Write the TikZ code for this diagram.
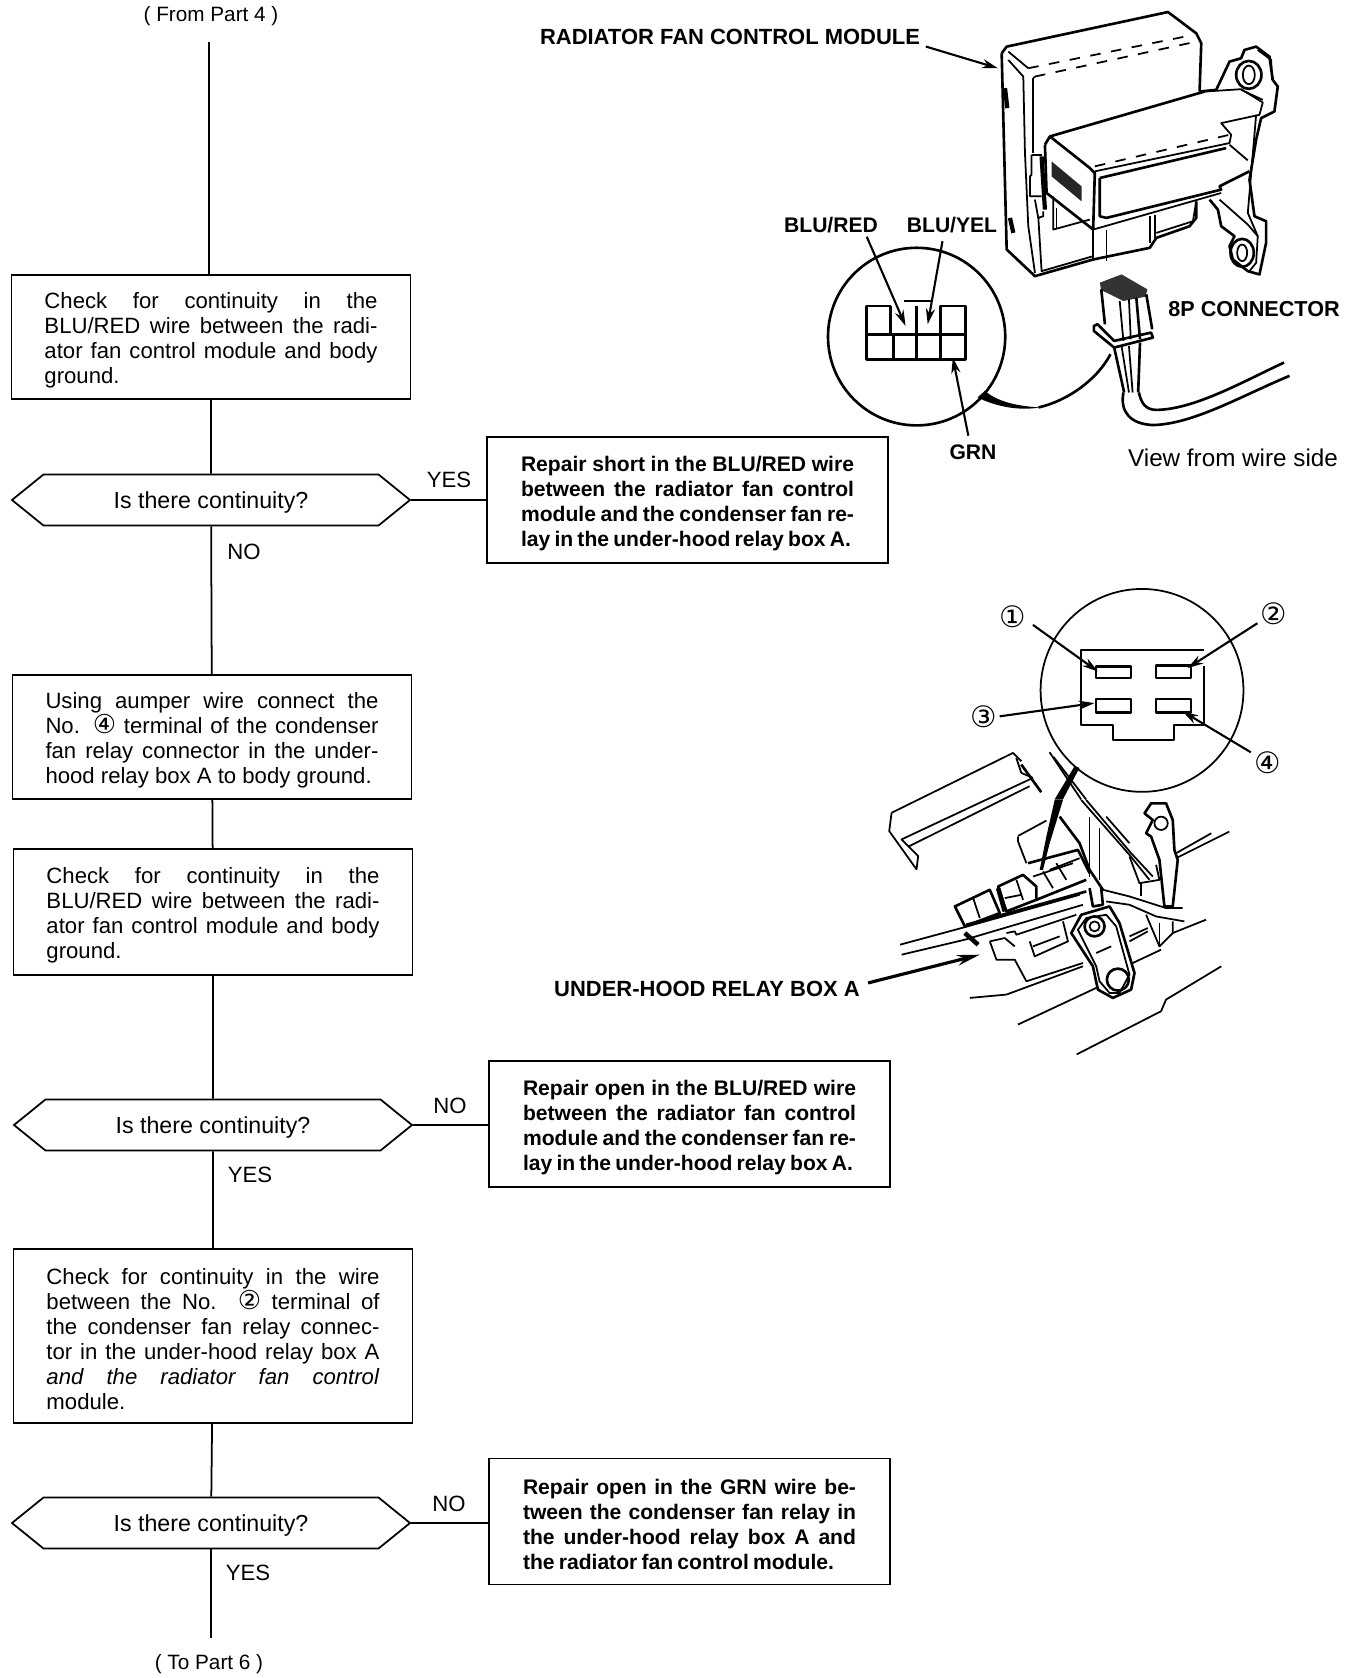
\documentclass[tikz,border=0pt]{standalone}
\usepackage{fontspec}
\setmainfont{Liberation Sans}
\newfontfamily\circfont{DejaVu Sans}
\usetikzlibrary{arrows.meta,shapes.symbols}
\tikzset{
    flowline/.style={line width=0.5pt},
    flowbox/.style={draw, line width=0.55pt, inner sep=0pt, minimum width=3.99cm, align=center},
    repairbox/.style={draw, line width=0.55pt, inner sep=0pt, minimum width=4.01cm, minimum height=1.26cm, align=center},
    decision/.style={draw, line width=0.5pt, shape=signal, signal to=east and west, signal pointer angle=78,
        inner sep=0pt, minimum width=3.98cm, minimum height=0.51cm, font=\fontsize{6.6}{7.1}\selectfont, text height=5.7pt, text depth=1pt},
    answer/.style={font=\fontsize{6.3}{7.1}\selectfont},
    passlabel/.style={font=\fontsize{5.9}{7.1}\selectfont, text height=5.5pt, text depth=1pt},
    leader/.style={line width=0.6pt, -{Stealth[length=4.5pt,width=2.6pt]}},
    part/.style={line width=0.5pt, line join=round},
    heavy/.style={line width=0.75pt, line join=round},
    partlabel/.style={font=\fontsize{6}{7}\selectfont\bfseries},
    longlabel/.style={font=\fontsize{6.25}{7}\selectfont\bfseries},
    termlabel/.style={font=\fontsize{8.4}{9}\selectfont\circfont}
}
\newcommand{\bodytext}[1]{\parbox{3.33cm}{\fontsize{6.3}{7.1}\selectfont\rule{0pt}{6.2pt}#1}}
\newcommand{\boldtext}[1]{\parbox{3.33cm}{\fontsize{6}{7.1}\selectfont\bfseries\spaceskip=0.2em plus 1em\rule{0pt}{6.2pt}#1}}
\newcommand{\termno}[1]{{\circfont\fontsize{7.4}{7.1}\selectfont #1}}
\begin{document}
\begin{tikzpicture}[x=1cm,y=-1cm,font=\fontsize{6.3}{7.1}\selectfont]
    \useasboundingbox (0,0) rectangle (13.6,16.78);
    % Flow chart, left column
    \node[passlabel] (frompart) at (2.11,0.14) {( From Part 4 )};
    \node[flowbox, minimum height=1.24cm] (checkone) at (2.11,3.37) {\bodytext{Check for continuity in the\linebreak BLU/RED wire between the radi-\linebreak ator fan control module and body\linebreak ground.}};
    \node[decision] (askone) at (2.11,5.00) {Is there continuity?};
    \node[flowbox, minimum height=1.24cm] (jumper) at (2.12,7.37) {\bodytext{Using aumper wire connect the\linebreak No. \termno{④} terminal of the condenser\linebreak fan relay connector in the under-\linebreak hood relay box A to body ground.}};
    \node[flowbox, minimum height=1.26cm] (checktwo) at (2.13,9.12) {\bodytext{Check for continuity in the\linebreak BLU/RED wire between the radi-\linebreak ator fan control module and body\linebreak ground.}};
    \node[decision] (asktwo) at (2.13,11.25) {Is there continuity?};
    \node[flowbox, minimum height=1.74cm] (checkthree) at (2.13,13.36) {\bodytext{Check for continuity in the wire\linebreak between the No. \termno{②} terminal of\linebreak the condenser fan relay connec-\linebreak tor in the under-hood relay box A\linebreak \textit{and the radiator fan control}\linebreak module.}};
    \node[decision] (askthree) at (2.11,15.23) {Is there continuity?};
    \node[passlabel] (topart) at (2.09,16.62) {( To Part 6 )};
    % Repair boxes
    \node[repairbox] (repairone) at (6.875,5.00) {\boldtext{Repair short in the BLU/RED wire\linebreak between the radiator fan control\linebreak module and the condenser fan re-\linebreak lay in the under-hood relay box A.}};
    \node[repairbox] (repairtwo) at (6.895,11.24) {\boldtext{Repair open in the BLU/RED wire\linebreak between the radiator fan control\linebreak module and the condenser fan re-\linebreak lay in the under-hood relay box A.}};
    \node[repairbox] (repairthree) at (6.895,15.215) {\boldtext{Repair open in the GRN wire be-\linebreak tween the condenser fan relay in\linebreak the under-hood relay box A and\linebreak the radiator fan control module.}};
    % Answers
    \node[answer] (yesone) at (4.49,4.80) {YES};
    \node[answer] (noone) at (2.44,5.52) {NO};
    \node[answer] (notwo) at (4.50,11.06) {NO};
    \node[answer] (yestwo) at (2.50,11.75) {YES};
    \node[answer] (nothree) at (4.49,15.04) {NO};
    \node[answer] (yesthree) at (2.48,15.73) {YES};
    % Connectors
    \draw[flowline] (frompart.south) ++(-0.02,0.04) coordinate (fromend) -- (fromend |- checkone.north);
    \draw[flowline] (checkone) -- (askone);
    \draw[flowline] (askone) -- (jumper);
    \draw[flowline] (jumper) -- (checktwo);
    \draw[flowline] (checktwo) -- (asktwo);
    \draw[flowline] (asktwo) -- (checkthree);
    \draw[flowline] (checkthree) -- (askthree);
    \draw[flowline] (askthree.south) -- (askthree.south |- topart.north);
    \draw[flowline] (askone.east) -- (repairone.west |- askone.east);
    \draw[flowline] (asktwo.east) -- (repairtwo.west |- asktwo.east);
    \draw[flowline] (askthree.east) -- (repairthree.west |- askthree.east);
    % Part labels
    \node[longlabel] (modulelabel) at (7.30,0.37) {RADIATOR FAN CONTROL MODULE};
    \node[partlabel] (blured) at (8.31,2.25) {BLU/RED};
    \node[partlabel] (bluyel) at (9.52,2.25) {BLU/YEL};
    \node[partlabel] (grn) at (9.73,4.52) {GRN};
    \node[partlabel, font=\fontsize{6.15}{7}\selectfont\bfseries] (eightp) at (12.54,3.09) {8P CONNECTOR};
    \node[font=\fontsize{6.9}{7}\selectfont] (wireside) at (12.33,4.58) {View from wire side};
    \node[longlabel] (relaylabel) at (7.07,9.89) {UNDER-HOOD RELAY BOX A};
    % Radiator fan control module
    \begin{scope}[shift={(10,0.3)},x=0.00333cm,y=-0.00333cm]
        % housing
        \draw[heavy] (5,70) -- (20,50) -- (505,-54) -- (590,10) -- (605,40) -- (600,185);
        \draw[heavy] (5,70) -- (20,660) -- (105,740) -- (280,690) -- (450,655) -- (470,625) -- (570,590) -- (590,565) -- (590,515);
        \draw[part] (25,65) -- (85,115);
        \draw[part, dashed] (85,115) -- (580,15);
        \draw[part] (100,145) -- (105,140);
        \draw[part, dashed] (105,140) -- (590,35);
        \draw[part] (100,145) -- (100,370);
        \draw[part] (25,90) -- (70,140) -- (75,370);
        \draw[part] (115,560) -- (125,725) -- (280,680);
        \draw[part] (75,370) -- (85,590) -- (105,730);
        \draw[part] (95,375) -- (95,435) -- (90,440) -- (90,500) -- (125,500);
        \draw[part] (95,375) -- (125,375);
        \draw[line width=1.2pt] (125,380) -- (135,540);
        \draw[part] (105,510) -- (115,565) -- (130,560) -- (130,545);
        \draw[line width=1.2pt] (15,175) -- (22,235);
        \draw[line width=1.2pt] (30,565) -- (40,610);
        % connector block
        \draw[heavy] (135,345) -- (150,320) -- (615,185);
        \draw[heavy] (150,320) -- (270,415) -- (285,430) -- (280,600) -- (140,490) -- (135,345);
        \draw[part] (615,185) -- (725,178) -- (790,218) -- (780,255) -- (665,280) -- (695,315) -- (690,340) -- (285,425);
        \draw[part, dashed] (285,410) -- (690,315);
        \draw[heavy] (300,445) -- (300,560) -- (320,565) -- (665,480) -- (660,470) -- (750,425);
        \draw[heavy] (300,445) -- (680,355);
        \draw[part] (690,345) -- (745,392);
        \draw[part] (280,600) -- (665,490);
        \fill[black!85] (155,395) -- (245,470) -- (245,515) -- (155,440) -- cycle;
        \draw[part] (160,500) -- (160,600) -- (270,570);
        \draw[part] (170,535) -- (170,595);
        \draw[part] (280,600) -- (280,690);
        \draw[part] (320,600) -- (320,695);
        \draw[part] (450,560) -- (450,640);
        \draw[part] (465,555) -- (465,630);
        \draw[part] (470,610) -- (580,575) -- (590,515);
        % bracket
        \draw[heavy] (600,185) -- (650,180) -- (690,95) -- (725,85) -- (735,60) -- (770,50) -- (810,80) -- (820,150) -- (835,170) -- (825,245) -- (785,265) -- (770,330) -- (750,450) -- (765,560) -- (800,575) -- (800,640) -- (780,735) -- (745,725) -- (700,690) -- (690,650) -- (705,620) -- (665,590) -- (655,540) -- (630,510);
        \draw[part] (770,255) -- (745,550) -- (775,620) -- (770,700) -- (750,725);
        \draw[part] (660,510) -- (745,585) -- (775,620);
        \draw[part] (725,180) -- (790,210);
        \draw[part] (775,60) -- (815,90) -- (818,150);
        \draw[heavy] (748,135) ellipse [x radius=38, y radius=42];
        \draw[part] (748,135) ellipse [x radius=18, y radius=28];
        \draw[heavy] (728,670) ellipse [x radius=35, y radius=42];
        \draw[part] (728,670) ellipse [x radius=15, y radius=25];
    \end{scope}
    % 8P connector and round view
    \begin{scope}[shift={(7.8,0)},x=0.0037cm,y=-0.00333cm]
        \coordinate (moduletip) at (590,205);
        \coordinate (modulestart) at (395,140);
        \draw[leader] (modulestart) -- (moduletip);
        % 8P connector
        \fill[black!80] (866,850) -- (925,825) -- (995,870) -- (990,892) -- (930,905) -- (870,872) -- cycle;
        \draw[heavy] (870,870) -- (880,975);
        \draw[heavy] (992,885) -- (1008,990);
        \draw[part] (920,905) -- (930,1025);
        \draw[part] (945,900) -- (950,1020);
        \draw[heavy] (965,895) -- (975,1020);
        \draw[heavy] (850,980) -- (860,975) -- (905,1025) -- (1005,1000) -- (1010,1015) -- (905,1045) -- (850,995) -- cycle;
        \draw[heavy] (905,1045) -- (932,1180);
        \draw[part] (925,1040) -- (945,1180);
        \draw[part] (945,1040) -- (955,1180);
        \draw[heavy] (975,1030) -- (970,1180);
        % cable
        \draw[heavy] (930,1180) .. controls (920,1240) and (950,1275) .. (1010,1278) .. controls (1120,1275) and (1250,1190) .. (1380,1130);
        \draw[heavy] (972,1180) .. controls (980,1225) and (1000,1235) .. (1030,1232) .. controls (1130,1225) and (1250,1150) .. (1365,1090);
        % round view of the connector
        \coordinate (viewcentre) at (370,1012);
        \draw[heavy] (viewcentre) ellipse [x radius=240, y radius=267];
        \draw[heavy] (300,920) -- (235,920) -- (235,1080) -- (503,1080) -- (503,920) -- (435,920) -- (435,1080);
        \draw[heavy] (235,1005) -- (503,1005);
        \draw[heavy] (300,920) -- (300,1005);
        \draw[heavy] (370,920) -- (370,1080);
        \draw[heavy] (308,1005) -- (308,1080);
        \draw[heavy] (335,905) -- (415,905);
        \fill (535,1195) .. controls (590,1225) and (650,1235) .. (705,1225) .. controls (650,1222) and (590,1210) .. (555,1175) -- cycle;
        \draw[heavy] (700,1225) .. controls (780,1205) and (860,1140) .. (895,1065);
        \coordinate (bluredstart) at (235,712);
        \coordinate (bluredtip) at (340,980);
        \coordinate (bluyelstart) at (440,725);
        \coordinate (bluyeltip) at (400,975);
        \coordinate (grnstart) at (510,1310);
        \coordinate (grntip) at (468,1075);
        \draw[leader] (bluredstart) -- (bluredtip);
        \draw[leader] (bluyelstart) -- (bluyeltip);
        \draw[leader] (grnstart) -- (grntip);
    \end{scope}
    % Relay connector view and cover
    \begin{scope}[shift={(8.4,5.7)},x=0.00333cm,y=-0.00333cm]
        \draw[part] (908,362) circle [radius=305];
        \draw[part] (1095,290) -- (1095,465) -- (1005,465) -- (1005,510) -- (820,510) -- (820,465) -- (725,465) -- (725,240) -- (1095,240);
        \draw[heavy] (770,290) rectangle (875,325);
        \draw[heavy] (950,288) rectangle (1055,325);
        \draw[heavy] (770,388) rectangle (875,428);
        \draw[heavy] (950,388) rectangle (1055,428);
        \node[termlabel] (termone) at (518,140) {①};
        \node[termlabel] (termtwo) at (1305,133) {②};
        \node[termlabel] (termthree) at (432,440) {③};
        \node[termlabel] (termfour) at (1285,578) {④};
        \coordinate (onetip) at (775,305);
        \coordinate (twotip) at (1045,295);
        \coordinate (threetip) at (765,400);
        \coordinate (fourtip) at (1030,425);
        \draw[leader] (termone) ++(62,25) coordinate (onestart) -- (onetip);
        \draw[leader] (termtwo) ++(-50,27) coordinate (twostart) -- (twotip);
        \draw[leader] (termthree) ++(48,0) coordinate (threestart) -- (threetip);
        \draw[leader] (termfour) ++(-50,-30) coordinate (fourstart) -- (fourtip);
        % cover
        \draw[part] (155,730) -- (520,550) -- (545,575);
        \draw[heavy] (545,585) -- (605,668);
        \draw[part] (155,730) -- (148,785) -- (230,900) -- (235,860) -- (185,810) -- (580,625);
        \draw[part] (205,832) -- (570,650);
        \draw[part] (530,565) -- (545,610) -- (580,625);
        % wires to the view
        \fill (705,590) -- (720,595) -- (670,690) -- (645,690) -- cycle;
        \draw[part] (630,548) -- (725,690);
        \draw[part] (642,562) -- (740,690);
    \end{scope}
    % Under-hood relay box
    \begin{scope}[shift={(8.9,8.0)},x=0.00333cm,y=-0.00333cm]
        \fill (495,0) -- (520,0) -- (480,130) -- (460,210) -- (450,210) -- (470,110) -- cycle;
        \draw[part] (575,0) -- (720,165) -- (780,240);
        \draw[part] (590,0) -- (725,160) -- (790,230);
        \draw[part] (600,50) -- (600,230);
        \draw[part] (630,85) -- (630,240);
        \draw[part] (650,50) -- (720,130);
        \draw[part] (720,170) -- (750,250) -- (810,240) -- (800,195);
        \draw[part] (755,250) -- (755,290);
        % relay
        \draw[part] (385,110) -- (385,125) -- (410,190);
        \draw[part] (385,108) -- (470,62);
        \draw[heavy] (510,50) -- (570,130) -- (600,210) -- (640,270);
        \draw[heavy] (415,190) -- (565,150) -- (600,220);
        \draw[heavy] (440,300) -- (590,240);
        \draw[part] (460,215) -- (490,265);
        \draw[part] (500,190) -- (530,240);
        \draw[part] (430,230) -- (550,190);
        \draw[part] (480,210) -- (570,175);
        \draw[heavy] (325,260) -- (400,225) -- (440,260) -- (440,300) -- (350,335) -- cycle;
        \draw[line width=1.3pt] (325,265) -- (345,335);
        \draw[part] (345,295) -- (395,285);
        \draw[part] (380,240) -- (400,300);
        \draw[heavy] (195,320) -- (300,270) -- (330,340) -- (225,380) -- cycle;
        \draw[part] (250,295) -- (270,355);
        % rails
        \draw[part] (30,435) -- (215,385) -- (570,285);
        \draw[part] (35,465) -- (225,420) -- (580,315);
        \draw[heavy] (230,375) -- (590,275);
        \draw[line width=1.3pt] (225,400) -- (265,435);
        \draw[heavy] (600,265) -- (610,320) -- (640,315) -- (635,265);
        \draw[part] (640,270) -- (720,290) -- (830,325) -- (880,325);
        \draw[part] (650,305) -- (720,315) -- (800,350) -- (885,365);
        \draw[part] (770,345) -- (810,440) -- (850,400) -- (850,365);
        \draw[part] (810,440) -- (810,370);
        \draw[part] (850,400) -- (950,360);
        \draw[part] (860,160) -- (966,100);
        \draw[part] (860,175) -- (1020,95);
        % ground strap at the top
        \draw[heavy] (765,40) -- (785,10) -- (830,10) -- (850,60) -- (855,150) -- (865,180) -- (850,320) -- (825,320) -- (810,180) -- (785,110) -- (770,100) -- (790,60) -- cycle;
        \draw[part] (815,70) circle [radius=20];
        % lower outline
        \draw[part] (300,425) -- (320,480) -- (375,480) -- (410,545) -- (580,490);
        \draw[part] (300,425) -- (345,415) -- (375,440);
        \draw[part] (350,400) -- (375,395) -- (380,405) -- (560,345);
        \draw[part] (420,425) -- (435,470) -- (535,425) -- (520,365);
        \draw[part] (430,440) -- (510,410);
        \draw[part] (730,490) -- (815,450);
        \draw[part, dash pattern=on 12pt off 2pt] (240,595) -- (350,585);
        \draw[part] (350,585) -- (580,500);
        \draw[part] (385,675) -- (620,565);
        \draw[part] (561,765) -- (815,635) -- (830,600) -- (996,500);
        % ground strap at the bottom
        \draw[heavy] (545,400) -- (575,345) -- (660,320) -- (690,370) -- (735,520) -- (725,570) -- (670,595) -- (625,570) -- (610,500) -- cycle;
        \draw[part] (565,390) -- (590,355) -- (650,345) -- (680,380) -- (720,525) -- (690,580) -- (660,580) -- (630,545) -- (620,500) -- cycle;
        \draw[heavy] (615,380) circle [radius=30];
        \draw[part] (615,380) circle [radius=15];
        \draw[heavy] (685,540) circle [radius=33];
        \draw[part] (620,460) -- (665,440);
        \draw[part] (720,410) -- (775,385);
        \draw[part] (720,425) -- (775,395);
        % leader of the box label
        \coordinate (relaystart) at (-66,550);
        \coordinate (relaytip) at (270,465);
        \draw[line width=0.9pt, -{Stealth[length=6.5pt,width=3pt]}] (relaystart) -- (relaytip);
    \end{scope}
\end{tikzpicture}
\end{document}
